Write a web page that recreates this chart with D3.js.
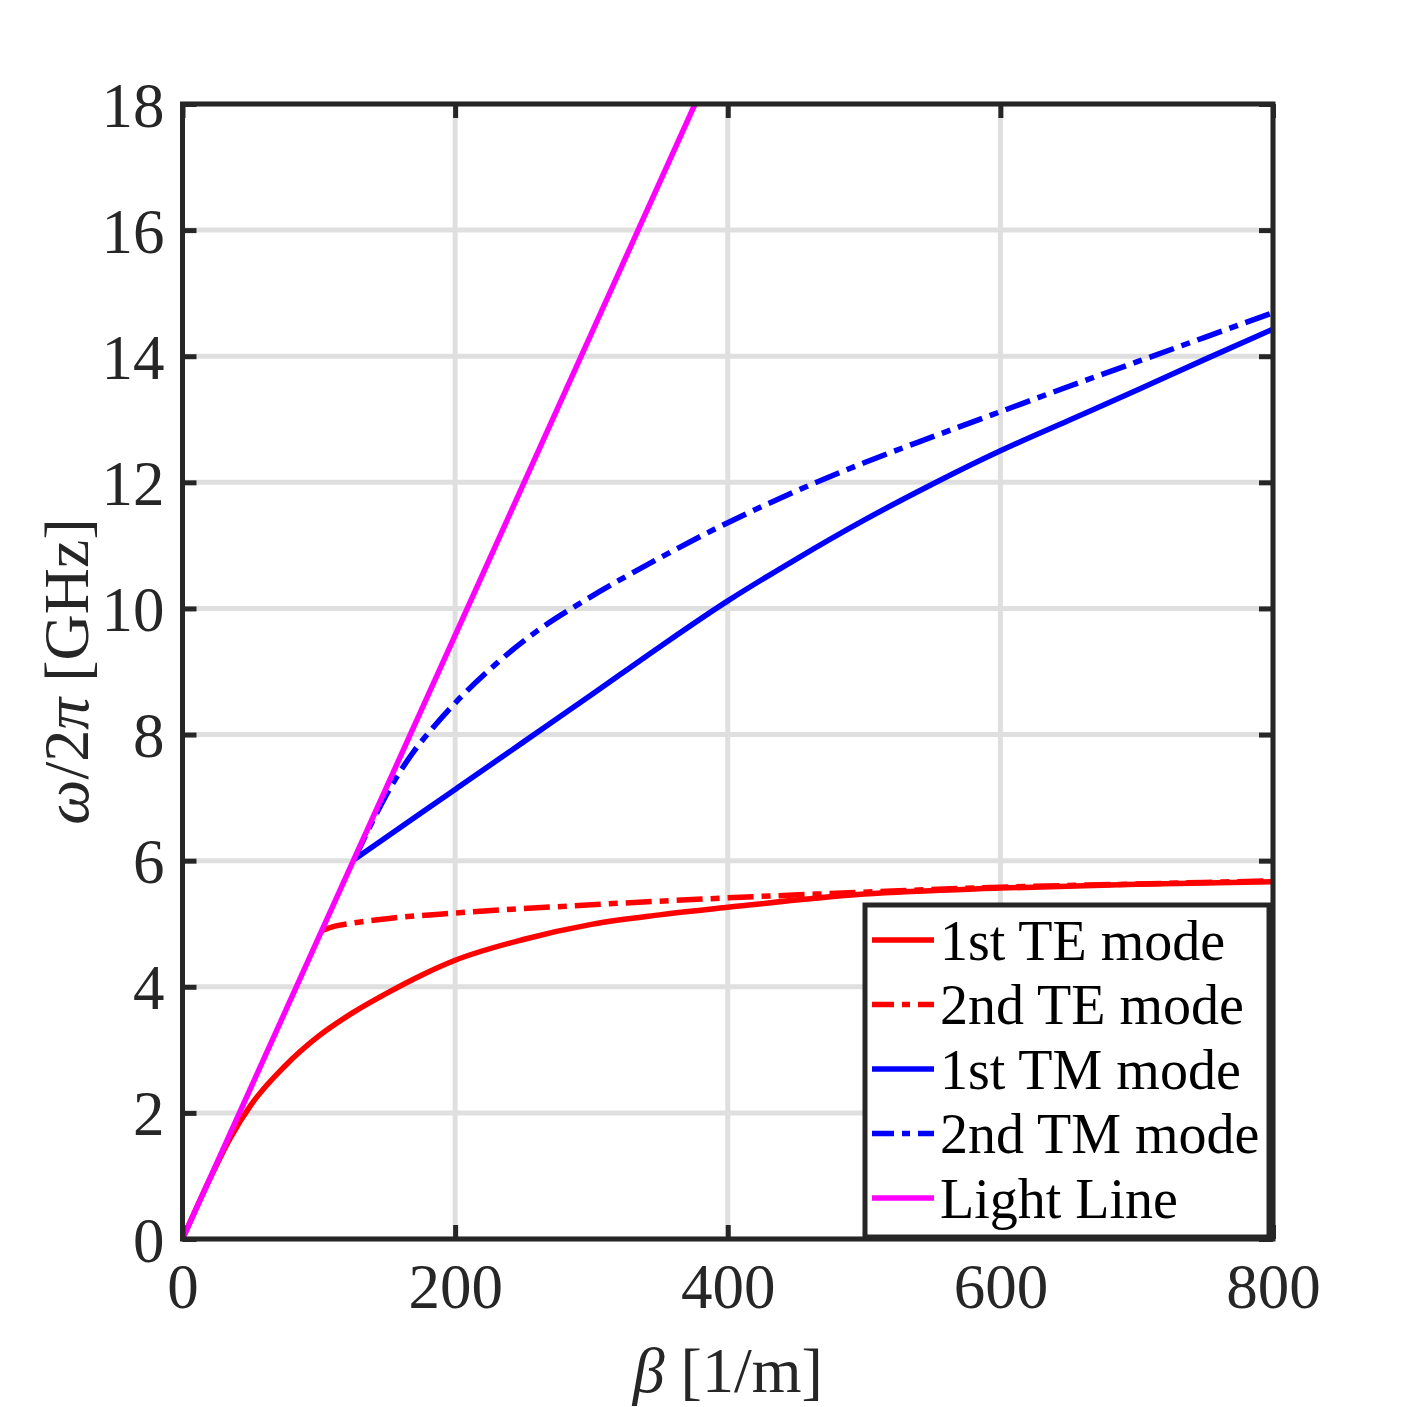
<!DOCTYPE html>
<html>
<head>
<meta charset="utf-8">
<script src="https://cdn.jsdelivr.net/npm/d3@7"></script>
<style>
  body { margin: 0; background: #fff; }
  svg { display: block; }
</style>
</head>
<body>
<div id="chart"></div>
<script>
// values (beta in 1/m, frequency in GHz)
const xTicks = [0, 200, 400, 600, 800];
const yTicks = [0, 2, 4, 6, 8, 10, 12, 14, 16, 18];

const te1Beta = [0, 20, 35, 50, 75, 100, 125, 150, 175, 200, 250, 300, 350, 400, 500, 600, 700, 800];
const te1Freq = [0, 0.95, 1.6, 2.12, 2.74, 3.22, 3.59, 3.9, 4.18, 4.42, 4.75, 4.99, 5.14, 5.26, 5.47, 5.565, 5.625, 5.665];

const te2Beta = [102, 110, 125, 150, 200, 300, 400, 500, 600, 700, 800];
const te2Freq = [4.89, 4.95, 5.01, 5.08, 5.17, 5.30, 5.41, 5.50, 5.58, 5.63, 5.68];

const tm1Beta = [126, 150, 200, 250, 300, 350, 400, 450, 500, 550, 600, 650, 700, 750, 800];
const tm1Freq = [6.02, 6.38, 7.13, 7.88, 8.63, 9.39, 10.12, 10.78, 11.4, 11.97, 12.5, 12.98, 13.46, 13.95, 14.43];

const tm2Beta = [126, 140, 155, 170, 185, 200, 230, 260, 290, 350, 400, 450, 500, 550, 600, 650, 700, 750, 800];
const tm2Freq = [6.02, 6.65, 7.25, 7.74, 8.14, 8.5, 9.12, 9.64, 10.06, 10.8, 11.36, 11.86, 12.31, 12.72, 13.12, 13.52, 13.91, 14.3, 14.69];

const lightBeta = [0, 376];
const lightFreq = [0, 18];

const seriesNames = ['1st TE mode', '2nd TE mode', '1st TM mode', '2nd TM mode', 'Light Line'];

const width = 1407;
const height = 1407;
const margin = {left: 182.5, right: 134, top: 104, bottom: 168};

const axisColor = '#262626';
const gridColor = '#dfdfdf';
const font = '"Liberation Serif", "Times New Roman", serif';

const series = [
    {name: seriesNames[0], beta: te1Beta, freq: te1Freq, color: '#ff0000', dash: null},
    {name: seriesNames[1], beta: te2Beta, freq: te2Freq, color: '#ff0000', dash: '26,8,9,8'},
    {name: seriesNames[2], beta: tm1Beta, freq: tm1Freq, color: '#0000ff', dash: null},
    {name: seriesNames[3], beta: tm2Beta, freq: tm2Freq, color: '#0000ff', dash: '26,8,9,8'},
    {name: seriesNames[4], beta: lightBeta, freq: lightFreq, color: '#ff00ff', dash: null}
];

const svg = d3.select('#chart')
    .append('svg')
    .attr('width', width)
    .attr('height', height);

const x = d3.scaleLinear()
    .domain([0, 800])
    .range([margin.left, width - margin.right]);

const y = d3.scaleLinear()
    .domain([0, 18])
    .range([height - margin.bottom, margin.top]);

// grid
svg.append('g')
    .selectAll('line')
    .data(xTicks)
    .enter()
    .append('line')
    .attr('x1', d => x(d)).attr('x2', d => x(d))
    .attr('y1', y(0)).attr('y2', y(18))
    .attr('stroke', gridColor)
    .attr('stroke-width', 5);

svg.append('g')
    .selectAll('line')
    .data(yTicks)
    .enter()
    .append('line')
    .attr('y1', d => y(d)).attr('y2', d => y(d))
    .attr('x1', x(0)).attr('x2', x(800))
    .attr('stroke', gridColor)
    .attr('stroke-width', 5);

// curves
svg.append('clipPath')
    .attr('id', 'plot-clip')
    .append('rect')
    .attr('x', x(0)).attr('y', y(18))
    .attr('width', x(800) - x(0))
    .attr('height', y(0) - y(18));

const line = d3.line()
    .x(d => x(d[0]))
    .y(d => y(d[1]))
    .curve(d3.curveMonotoneX);

svg.append('g')
    .attr('clip-path', 'url(#plot-clip)')
    .selectAll('path')
    .data(series)
    .enter()
    .append('path')
    .attr('d', s => line(s.beta.map((b, i) => [b, s.freq[i]])))
    .attr('fill', 'none')
    .attr('stroke', s => s.color)
    .attr('stroke-width', 5.5)
    .attr('stroke-dasharray', s => s.dash);

// axes with inward ticks on all four sides
const tickLen = 14;
const axisBottom = svg.append('g')
    .attr('transform', `translate(0,${y(0)})`)
    .call(d3.axisBottom(x).tickValues(xTicks).tickSize(-tickLen).tickPadding(24));
const axisTop = svg.append('g')
    .attr('transform', `translate(0,${y(18)})`)
    .call(d3.axisTop(x).tickValues(xTicks).tickSize(-tickLen).tickFormat(''));
const axisLeft = svg.append('g')
    .attr('transform', `translate(${x(0)},0)`)
    .call(d3.axisLeft(y).tickValues(yTicks).tickSize(-tickLen).tickPadding(18));
const axisRight = svg.append('g')
    .attr('transform', `translate(${x(800)},0)`)
    .call(d3.axisRight(y).tickValues(yTicks).tickSize(-tickLen).tickFormat(''));

[axisBottom, axisTop, axisLeft, axisRight].forEach(a => {
    a.select('.domain').remove();
    a.selectAll('line').attr('stroke', axisColor).attr('stroke-width', 5);
    a.selectAll('text')
        .attr('fill', axisColor)
        .style('font-family', font)
        .style('font-size', '63px');
});
axisBottom.selectAll('text').attr('dy', '0.71em');
axisLeft.selectAll('text').attr('dy', '0.35em');

svg.append('rect')
    .attr('x', x(0)).attr('y', y(18))
    .attr('width', x(800) - x(0))
    .attr('height', y(0) - y(18))
    .attr('fill', 'none')
    .attr('stroke', axisColor)
    .attr('stroke-width', 5);

// axis labels
const xLabel = svg.append('text')
    .attr('x', (x(0) + x(800)) / 2)
    .attr('y', 1392)
    .attr('text-anchor', 'middle')
    .attr('fill', axisColor)
    .style('font-family', font)
    .style('font-size', '64px');
xLabel.append('tspan').style('font-style', 'italic').text('β');
xLabel.append('tspan').text(' [1/m]');

const yLabel = svg.append('text')
    .attr('transform', `translate(88,${(y(0) + y(18)) / 2}) rotate(-90)`)
    .attr('text-anchor', 'middle')
    .attr('fill', axisColor)
    .style('font-family', font)
    .style('font-size', '64px');
yLabel.append('tspan').style('font-style', 'italic').text('ω');
yLabel.append('tspan').text('/2');
yLabel.append('tspan').style('font-style', 'italic').text('π');
yLabel.append('tspan').text(' [GHz]');

// legend
const legend = svg.append('g');
legend.append('rect')
    .attr('x', 865).attr('y', 905)
    .attr('width', 404).attr('height', 332)
    .attr('fill', '#fff')
    .attr('stroke', axisColor)
    .attr('stroke-width', 5);

const rowY = d3.scaleLinear().domain([0, 4]).range([940, 1198]);
const rows = legend.selectAll('g.row')
    .data(series)
    .enter()
    .append('g')
    .attr('class', 'row')
    .attr('transform', (d, i) => `translate(0,${rowY(i)})`);

rows.append('line')
    .attr('x1', 872).attr('x2', 934)
    .attr('y1', 0).attr('y2', 0)
    .attr('stroke', d => d.color)
    .attr('stroke-width', 5.5)
    .attr('stroke-dasharray', d => d.dash ? '22,8,8,8' : null);

rows.append('text')
    .attr('x', 940)
    .attr('dy', '0.35em')
    .attr('fill', '#000')
    .style('font-family', font)
    .style('font-size', '56px')
    .text(d => d.name);
</script>
</body>
</html>
